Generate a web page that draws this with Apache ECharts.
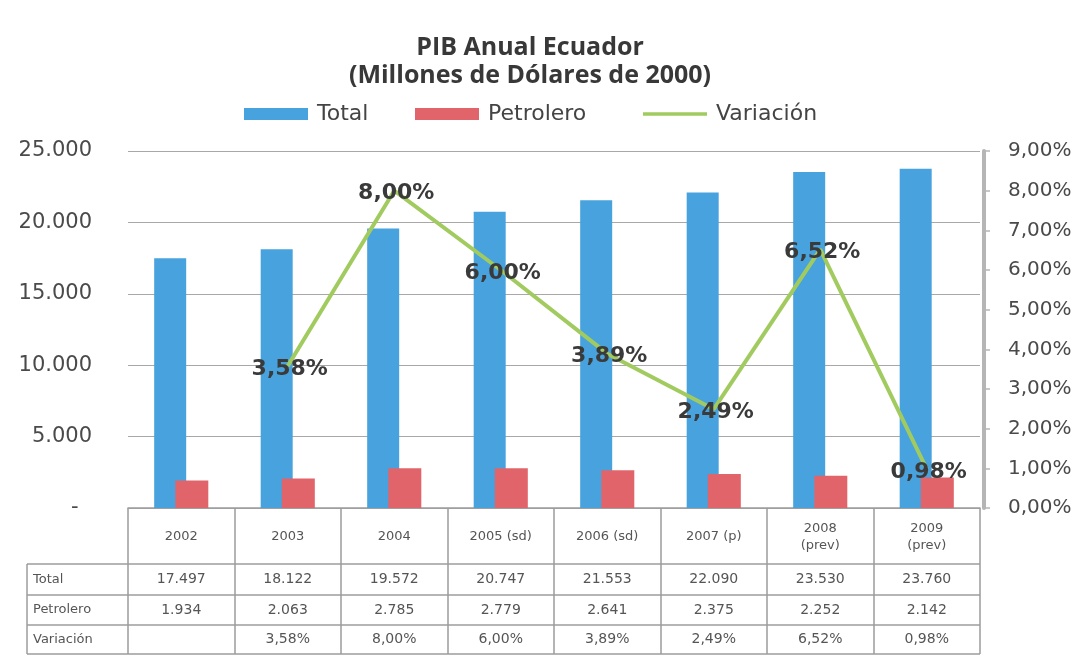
<!DOCTYPE html>
<html>
<head>
<meta charset="utf-8">
<script src="https://cdn.jsdelivr.net/npm/echarts@6/dist/echarts.min.js"></script>
<style>
html,body{margin:0;padding:0;background:#fff;}
#chart{width:1086px;height:656px;}
</style>
</head>
<body>
<div id="chart"></div>
<script>
const categories = ['2002', '2003', '2004', '2005 (sd)', '2006 (sd)', '2007 (p)', '2008\n(prev)', '2009\n(prev)'];
const totalValues = [17497, 18122, 19572, 20747, 21553, 22090, 23530, 23760];
const petroleroValues = [1934, 2063, 2785, 2779, 2641, 2375, 2252, 2142];
const variacionValues = [null, 3.58, 8.00, 6.00, 3.89, 2.49, 6.52, 0.98];
const rowLabels = ['Total', 'Petrolero', 'Variación'];
const leftAxis = { min: 0, max: 25000, interval: 5000 };
const rightAxis = { min: 0, max: 9, interval: 1 };

function fmtThousands(n) {
  return String(n).replace(/\B(?=(\d{3})+(?!\d))/g, '.');
}
function fmtPct(v) {
  return v.toFixed(2).replace('.', ',') + '%';
}

const BLUE = '#47a2dd';
const RED = '#e1646a';
const GREEN = '#a2cb5f';
const GRID_COLOR = '#a8a8a8';
const TABLE_COLOR = '#9c9c9c';
const TEXT = '#4a4a4a';

const chart = echarts.init(document.getElementById('chart'), null, { renderer: 'canvas' });

const legendText = { fontFamily: 'DejaVu Sans', fontSize: 22, color: '#444', padding: [0, 0, 0, 4] };
function legendAt(name, left, icon, color) {
  return {
    top: 98, left: left, itemWidth: 64, itemHeight: 12,
    textStyle: legendText,
    data: [{ name: name, icon: icon, itemStyle: { color: color } }]
  };
}

const option = {
  backgroundColor: '#ffffff',
  animation: false,
  title: {
    text: 'PIB Anual Ecuador\n(Millones de Dólares de 2000)',
    left: 525,
    textAlign: 'center',
    top: 29,
    textStyle: { fontFamily: 'Open Sans', fontWeight: 'bold', fontSize: 25, lineHeight: 28, color: '#383838' }
  },
  legend: [
    legendAt('Total', 239, 'rect', BLUE),
    legendAt('Petrolero', 410, 'rect', RED),
    legendAt('Variación', 638, 'path://M0,0 L64,0 L64,3.5 L0,3.5 Z', GREEN)
  ],
  grid: { left: 128, right: 106, top: 151, bottom: 148, containLabel: false },
  xAxis: {
    type: 'category',
    data: categories,
    boundaryGap: true,
    axisLine: { show: true, lineStyle: { color: TABLE_COLOR, width: 1.5 } },
    axisTick: { show: true, alignWithLabel: false, length: 146, lineStyle: { color: TABLE_COLOR, width: 1.5 } },
    axisLabel: {
      interval: 0,
      margin: 29,
      verticalAlign: 'middle',
      fontFamily: 'DejaVu Sans',
      fontSize: 13,
      lineHeight: 17,
      color: '#555'
    }
  },
  yAxis: [
    {
      type: 'value',
      min: leftAxis.min,
      max: leftAxis.max,
      interval: leftAxis.interval,
      axisLine: { show: false },
      axisTick: { show: false },
      splitLine: { show: true, lineStyle: { color: GRID_COLOR, width: 1.2 } },
      axisLabel: {
        margin: 36,
        fontFamily: 'DejaVu Sans',
        fontSize: 21,
        color: TEXT,
        formatter: function (v) { return v === 0 ? '-  ' : fmtThousands(v); }
      }
    },
    {
      type: 'value',
      position: 'right',
      offset: 4,
      min: rightAxis.min,
      max: rightAxis.max,
      interval: rightAxis.interval,
      axisLine: { show: true, lineStyle: { color: '#b5b5b5', width: 4 } },
      axisTick: { show: true, inside: false, length: 6, lineStyle: { color: '#b5b5b5', width: 1.5 } },
      splitLine: { show: false },
      axisLabel: {
        margin: 24,
        fontFamily: 'DejaVu Sans',
        fontSize: 20,
        color: TEXT,
        formatter: function (v) { return fmtPct(v); }
      }
    }
  ],
  series: [
    {
      name: 'Total',
      type: 'bar',
      data: totalValues,
      barWidth: 32,
      barGap: '-34%',
      itemStyle: { color: BLUE }
    },
    {
      name: 'Petrolero',
      type: 'bar',
      data: petroleroValues,
      barWidth: 33,
      barGap: '-34%',
      itemStyle: { color: RED }
    },
    {
      name: 'Variación',
      type: 'line',
      yAxisIndex: 1,
      data: variacionValues,
      symbol: 'circle',
      symbolSize: 0.01,
      showSymbol: true,
      connectNulls: false,
      lineStyle: { color: GREEN, width: 4 },
      itemStyle: { color: GREEN },
      z: 5,
      label: {
        show: true,
        position: 'inside',
        offset: [2, 3],
        fontFamily: 'DejaVu Sans',
        fontWeight: 'bold',
        fontSize: 22,
        color: '#3a3a3a',
        formatter: function (p) { return p.value == null ? '' : fmtPct(p.value); }
      }
    }
  ]
};

chart.setOption(option);

// Data table below the chart
function buildTable() {
  const rowTops = [564, 595, 625, 654];
  const leftX = 27;
  const plotRight = 980;
  const els = [];
  const lineStyle = { stroke: TABLE_COLOR, lineWidth: 1.5 };
  rowTops.forEach(function (y) {
    els.push({ type: 'line', shape: { x1: leftX, y1: y, x2: plotRight, y2: y }, style: lineStyle, silent: true });
  });
  els.push({ type: 'line', shape: { x1: leftX, y1: rowTops[0], x2: leftX, y2: rowTops[3] }, style: lineStyle, silent: true });
  const rows = [
    totalValues.map(fmtThousands),
    petroleroValues.map(fmtThousands),
    variacionValues.map(function (v) { return v == null ? '' : fmtPct(v); })
  ];
  rowLabels.forEach(function (lbl, r) {
    const yc = (rowTops[r] + rowTops[r + 1]) / 2;
    els.push({
      type: 'text', x: leftX + 6, y: yc, silent: true,
      style: { text: lbl, fontFamily: 'DejaVu Sans', fontSize: 13, fill: '#555', align: 'left', verticalAlign: 'middle' }
    });
    rows[r].forEach(function (txt, i) {
      const xc = chart.convertToPixel({ xAxisIndex: 0 }, i);
      els.push({
        type: 'text', x: xc, y: yc, silent: true,
        style: { text: txt, fontFamily: 'DejaVu Sans', fontSize: 14, fill: '#555', align: 'center', verticalAlign: 'middle' }
      });
    });
  });
  chart.setOption({ graphic: els });
}
buildTable();
</script>
</body>
</html>
